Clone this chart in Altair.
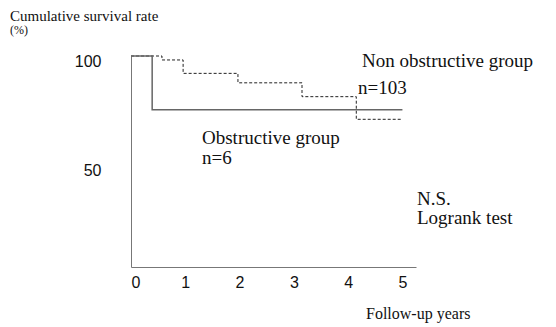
import altair as alt
import pandas as pd

# Kaplan-Meier style step curves (years, cumulative survival %)
obstructive_years = [0.0, 0.39, 5.0]
obstructive_surv = [100.0, 75.5, 75.5]

non_obstructive_years = [0.0, 0.57, 0.96, 1.97, 3.15, 4.15, 5.0]
non_obstructive_surv = [100.0, 98.2, 92.1, 87.8, 81.5, 71.2, 71.2]

x_ticks = [0, 1, 2, 3, 4, 5]
y_ticks = [50, 100]

obs_df = pd.DataFrame({"year": obstructive_years, "surv": obstructive_surv})
non_df = pd.DataFrame({"year": non_obstructive_years, "surv": non_obstructive_surv})

W, H = 285, 211
SERIF = "Liberation Serif"

xs = alt.Scale(domain=[0, 5.25], nice=False, zero=False)
ys = alt.Scale(domain=[4, 100], nice=False, zero=False)

x_axis = alt.Axis(values=x_ticks, format="d", title=None, grid=False, ticks=False, domainColor="#777",
                  labelFont="Liberation Sans", labelFontSize=16, labelColor="#111",
                  labelPadding=7, labelAngle=0)
y_axis = alt.Axis(values=y_ticks, format="d", title=None, grid=False, ticks=False, domainColor="#777",
                  labelFont="Liberation Sans", labelFontSize=16, labelColor="#111",
                  labelPadding=30, labelOffset=5)

base_obs = alt.Chart(obs_df).mark_line(interpolate="step-after", color="#666", strokeWidth=1.5).encode(
    x=alt.X("year:Q", scale=xs, axis=x_axis),
    y=alt.Y("surv:Q", scale=ys, axis=y_axis),
)
base_non = alt.Chart(non_df).mark_line(interpolate="step-after", color="#222", strokeWidth=1,
                                       strokeDash=[3, 2]).encode(
    x=alt.X("year:Q", scale=xs),
    y=alt.Y("surv:Q", scale=ys),
)

def txt(s, x, y, size, align="left"):
    return alt.Chart(pd.DataFrame({"t": [s]})).mark_text(
        font=SERIF, fontSize=size, align=align, baseline="middle", color="#111"
    ).encode(text="t:N", x=alt.value(x), y=alt.value(y))

labels = [
    txt("Cumulative survival rate", -121, -40, 15),
    txt("(%)", -121, -26, 12),
    txt("Non obstructive group", 231, 5, 19),
    txt("n=103", 227, 32, 19),
    txt("Obstructive group", 71, 82, 19),
    txt("n=6", 71, 102, 19),
    txt("N.S.", 286, 143, 19),
    txt("Logrank test", 286, 162, 19),
    txt("Follow-up years", 235, 258, 16),
]

chart = alt.layer(base_non, base_obs, *labels).properties(
    width=W, height=H,
    autosize=alt.AutoSizeParams(type="none"),
    padding={"left": 123, "top": 48, "right": 132, "bottom": 58},
).configure_view(stroke=None)

chart.save("out.html", embed_options={"renderer": "svg", "actions": False})
